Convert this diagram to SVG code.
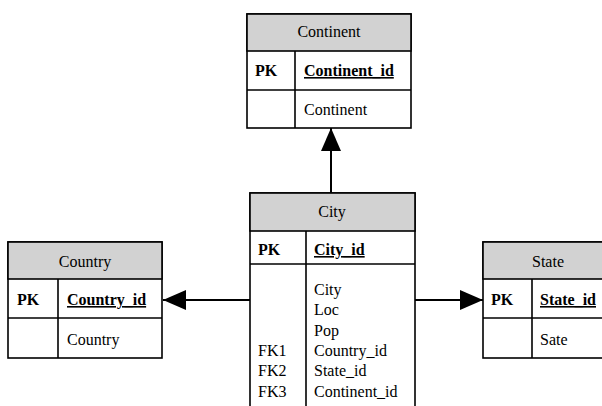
<svg xmlns="http://www.w3.org/2000/svg" width="602" height="406" viewBox="0 0 602 406">
<defs>
<style>
.box{fill:#fff;stroke:#000;stroke-width:1.6}
.hdr{fill:#d2d2d2;stroke:#000;stroke-width:1.6}
.ln{stroke:#000;stroke-width:1.6;fill:none}
.b{font-weight:bold}
.u{text-decoration:underline}
.c{text-anchor:middle}
.con{stroke:#000;stroke-width:2;fill:none}
</style>
<marker id="ah" viewBox="0 0 23 20" refX="23" refY="10" markerWidth="23" markerHeight="20" markerUnits="userSpaceOnUse" orient="auto">
<path d="M0,0 L23,10 L0,20 Z" fill="#000"/>
</marker>
</defs>
<g id="connectors">
<line class="con" x1="331" y1="193" x2="331" y2="128" marker-end="url(#ah)"/>
<line class="con" x1="250" y1="300" x2="163" y2="300" marker-end="url(#ah)"/>
<line class="con" x1="415" y1="300" x2="483" y2="300" marker-end="url(#ah)"/>
</g>
<g font-family="Liberation Serif, Times New Roman, serif" font-size="16" fill="#000">
<g id="continent">
<rect class="box" x="247" y="14" width="164" height="114"/>
<rect class="hdr" x="247" y="14" width="164" height="37"/>
<line class="ln" x1="247" y1="90" x2="411" y2="90"/>
<line class="ln" x1="295" y1="51" x2="295" y2="128"/>
<text class="c" x="329" y="37">Continent</text>
<text class="b" x="255" y="76">PK</text>
<text class="b u" x="304" y="76">Continent_id</text>
<text x="304" y="115">Continent</text>
</g>
<g id="city">
<rect class="box" x="250" y="193" width="165" height="220"/>
<rect class="hdr" x="250" y="193" width="165" height="38"/>
<line class="ln" x1="250" y1="264" x2="415" y2="264"/>
<line class="ln" x1="306" y1="231" x2="306" y2="413"/>
<text class="c" x="332" y="217">City</text>
<text class="b" x="258" y="255">PK</text>
<text class="b u" x="314" y="255">City_id</text>
<text x="314" y="295">City</text>
<text x="314" y="315">Loc</text>
<text x="314" y="336">Pop</text>
<text x="314" y="356">Country_id</text>
<text x="314" y="376">State_id</text>
<text x="314" y="397">Continent_id</text>
<text x="258" y="356">FK1</text>
<text x="258" y="376">FK2</text>
<text x="258" y="397">FK3</text>
</g>
<g id="country">
<rect class="box" x="8" y="242" width="154" height="116"/>
<rect class="hdr" x="8" y="242" width="154" height="37"/>
<line class="ln" x1="8" y1="318" x2="162" y2="318"/>
<line class="ln" x1="58" y1="279" x2="58" y2="358"/>
<text class="c" x="85" y="267">Country</text>
<text class="b" x="17" y="305">PK</text>
<text class="b u" x="67" y="305">Country_id</text>
<text x="67" y="345">Country</text>
</g>
<g id="state">
<rect class="box" x="483" y="242" width="130" height="116"/>
<rect class="hdr" x="483" y="242" width="130" height="37"/>
<line class="ln" x1="483" y1="318" x2="613" y2="318"/>
<line class="ln" x1="532" y1="279" x2="532" y2="358"/>
<text class="c" x="548" y="267">State</text>
<text class="b" x="491" y="305">PK</text>
<text class="b u" x="540" y="305">State_id</text>
<text x="540" y="345">Sate</text>
</g>
</g>
</svg>
